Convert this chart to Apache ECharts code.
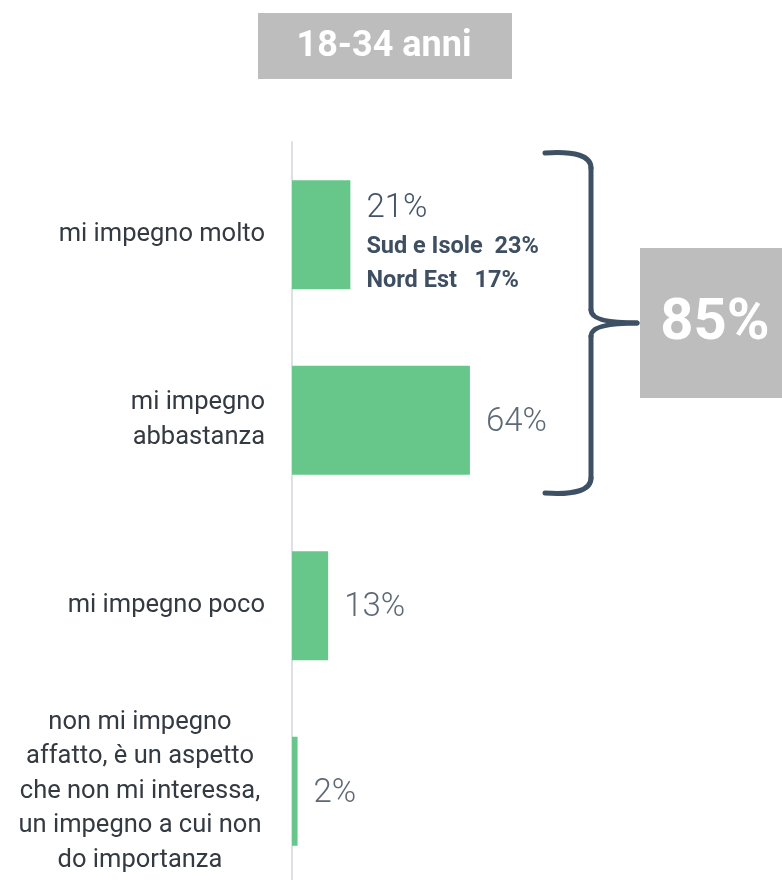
<!DOCTYPE html>
<html>
<head>
<meta charset="utf-8">
<script src="https://cdn.jsdelivr.net/npm/echarts@6/dist/echarts.min.js"></script>
<style>
  html, body { margin: 0; padding: 0; background: #fff; overflow: hidden; }
  #chart { width: 782px; height: 890px; }
</style>
</head>
<body>
<div id="chart"></div>
<script>
// data
var title = '18-34 anni';
var categories = [
  'mi impegno molto',
  'mi impegno\nabbastanza',
  'mi impegno poco',
  'non mi impegno\naffatto, è un aspetto\nche non mi interessa,\nun impegno a cui non\ndo importanza'
];
var values = [21, 64, 13, 2];
var regionNotes = ['Sud e Isole  23%', 'Nord Est   17%'];
var totalLabel = '85%';

var font = 'Roboto, "Noto Sans", sans-serif';
var myChart = echarts.init(document.getElementById('chart'));

// brace pieces (decoration)
var braceStyle = { fill: 'none', stroke: '#3e5064', lineWidth: 5, lineCap: 'round' };
function curve(x1, y1, cx, cy, x2, y2) {
  return { type: 'bezierCurve', shape: { x1: x1, y1: y1, cpx1: cx, cpy1: cy, x2: x2, y2: y2 }, style: braceStyle };
}
function seg(x1, y1, x2, y2) {
  return { type: 'line', shape: { x1: x1, y1: y1, x2: x2, y2: y2 }, style: braceStyle };
}

var option = {
  backgroundColor: '#fff',
  animation: false,
  grid: { left: 292, top: 142, width: 278, height: 742 },
  xAxis: { type: 'value', min: 0, max: 100, show: false },
  yAxis: {
    type: 'category',
    inverse: true,
    data: categories,
    axisLine: { show: true, lineStyle: { color: '#dde1e6', width: 2 } },
    axisTick: { show: false },
    axisLabel: {
      margin: 27,
      fontFamily: font,
      fontSize: 25.5,
      lineHeight: 34.5,
      color: '#343a41',
      formatter: function (val) {
        var lines = val.split('\n');
        // long label: lines centred inside a block
        if (lines.length > 2) {
          return lines.map(function (l) { return '{c|' + l + '}'; }).join('\n');
        }
        return val;
      },
      rich: {
        c: { width: 250, align: 'center', fontFamily: font, fontSize: 25.5, lineHeight: 34.5, color: '#343a41' }
      }
    }
  },
  series: [{
    type: 'bar',
    barWidth: 109,
    data: values,
    itemStyle: { color: '#67c68a' },
    label: {
      show: true,
      position: 'right',
      distance: 16,
      formatter: function (p) {
        if (p.dataIndex === 0) {
          return '{a|' + p.value + '%}\n' + regionNotes.map(function (n) { return '{b|' + n + '}'; }).join('\n');
        }
        return '{v|' + p.value + '%}';
      },
      rich: {
        a: { fontFamily: font, fontWeight: 300, fontSize: 33, lineHeight: 42, color: '#445468' },
        b: { fontFamily: font, fontWeight: 'bold', fontSize: 23.5, lineHeight: 34, color: '#3e4f61' },
        v: { fontFamily: font, fontWeight: 300, fontSize: 33, color: '#5d6975' }
      }
    },
    labelLayout: function (p) {
      return p.dataIndex === 0 ? { dy: 8 } : { dy: 2 };
    }
  }],
  graphic: [
    {
      type: 'rect',
      shape: { x: 258, y: 13, width: 254, height: 66 },
      style: { fill: '#bdbdbd' }
    },
    {
      type: 'text',
      x: 384, y: 47,
      style: {
        text: title, fill: '#fff', fontFamily: font, fontWeight: 'bold', fontSize: 36,
        textAlign: 'center', textVerticalAlign: 'middle'
      }
    },
    curve(545, 153, 591, 150, 591, 168),
    seg(591, 168, 591, 310),
    curve(591, 310, 591, 323, 637, 323),
    curve(637, 323, 591, 323, 591, 336),
    seg(591, 336, 591, 478),
    curve(591, 478, 591, 496, 545, 493),
    {
      type: 'rect',
      shape: { x: 640, y: 248, width: 142, height: 150 },
      style: { fill: '#bdbdbd' }
    },
    {
      type: 'text',
      x: 715, y: 324,
      style: {
        text: totalLabel, fill: '#fff', fontFamily: font, fontWeight: 'bold', fontSize: 58,
        textAlign: 'center', textVerticalAlign: 'middle'
      }
    }
  ]
};

myChart.setOption(option);
window.onresize = function () { myChart.resize(); };
</script>
</body>
</html>
